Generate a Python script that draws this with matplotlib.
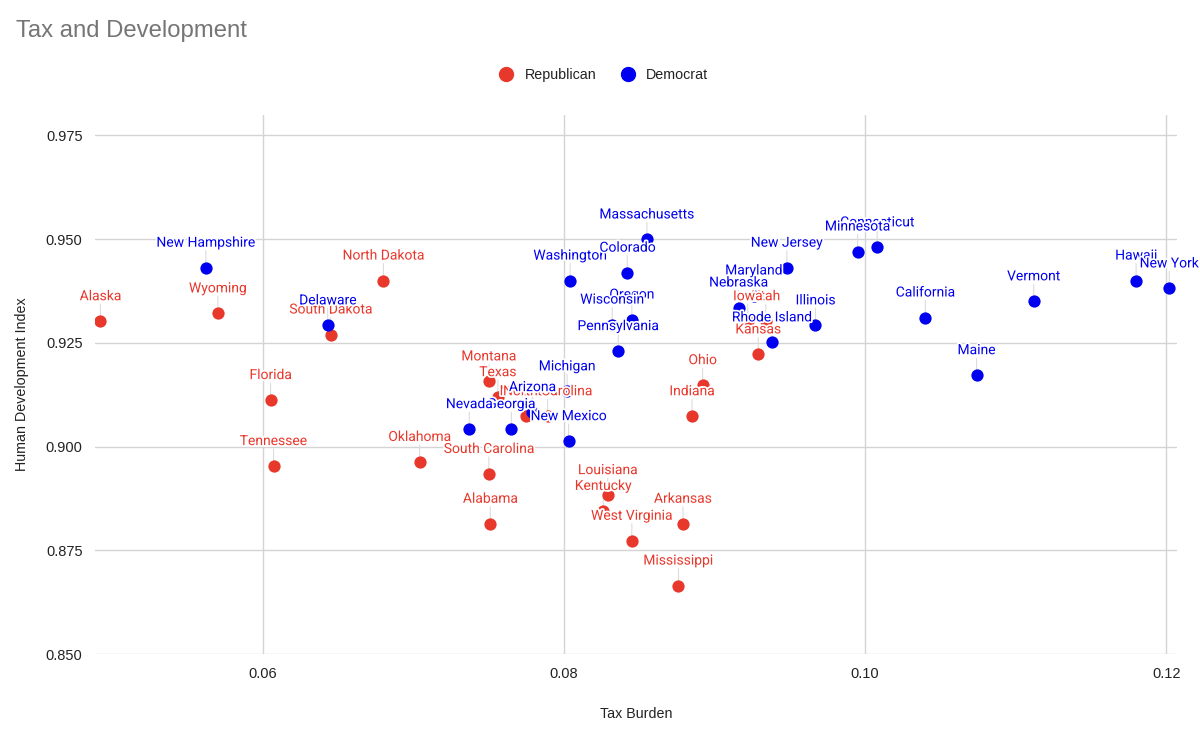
import matplotlib.pyplot as plt
import matplotlib.patheffects as pe
from matplotlib.lines import Line2D

# data (tax burden, HDI); list order = label drawing order
rep_states = ["Alaska", "Wyoming", "North Dakota", "South Dakota", "Florida", "Tennessee",
              "Oklahoma", "South Carolina", "Alabama", "Montana", "Texas", "Missouri",
              "North Carolina", "Ohio", "Indiana", "Utah", "Iowa", "Kansas", "Louisiana",
              "Kentucky", "West Virginia", "Arkansas", "Mississippi"]
rep_tax = [0.0492, 0.0570, 0.0680, 0.0645, 0.0605, 0.0607,
           0.0704, 0.0750, 0.0751, 0.0750, 0.0756, 0.0775,
           0.0789, 0.0892, 0.0885, 0.0934, 0.0922, 0.0929, 0.0829,
           0.0826, 0.0845, 0.0879, 0.0876]
rep_hdi = [0.9302, 0.9321, 0.9400, 0.9270, 0.9112, 0.8953,
           0.8963, 0.8934, 0.8814, 0.9157, 0.9119, 0.9073,
           0.9073, 0.9148, 0.9073, 0.9302, 0.9302, 0.9222, 0.8883,
           0.8845, 0.8773, 0.8814, 0.8665]

dem_states = ["New Hampshire", "Delaware", "Washington", "Massachusetts", "Colorado", "Oregon",
              "Wisconsin", "Pennsylvania", "Michigan", "Georgia", "Nevada", "Arizona",
              "New Mexico", "Maryland", "New Jersey", "Nebraska", "Rhode Island", "Illinois",
              "Connecticut", "Minnesota", "California", "Maine", "Vermont", "Hawaii", "New York"]
dem_tax = [0.0562, 0.0643, 0.0804, 0.0855, 0.0842, 0.0845,
           0.0832, 0.0836, 0.0802, 0.0765, 0.0737, 0.0779,
           0.0803, 0.0926, 0.0948, 0.0916, 0.0938, 0.0967,
           0.1008, 0.0995, 0.1040, 0.1074, 0.1112, 0.1180, 0.1202]
dem_hdi = [0.9431, 0.9292, 0.9400, 0.9499, 0.9419, 0.9306,
           0.9294, 0.9230, 0.9133, 0.9042, 0.9042, 0.9083,
           0.9013, 0.9364, 0.9431, 0.9335, 0.9251, 0.9292,
           0.9480, 0.9470, 0.9311, 0.9172, 0.9350, 0.9400, 0.9381]

x_ticks = [0.06, 0.08, 0.10, 0.12]
y_ticks = [0.850, 0.875, 0.900, 0.925, 0.950, 0.975]

RED = "#e8382c"
BLUE = "#0000f0"

fig = plt.figure(figsize=(12, 7.3), dpi=100)
ax = fig.add_axes([0.0792, 0.104, 0.9018, 0.7385])

ax.scatter(rep_tax, rep_hdi, s=78, color=RED, zorder=3, linewidths=0)
ax.scatter(dem_tax, dem_hdi, s=78, color=BLUE, zorder=3, linewidths=0)

halo = [pe.withStroke(linewidth=2.5, foreground="white")]
for names, xs, ys, col in [(rep_states, rep_tax, rep_hdi, RED),
                           (dem_states, dem_tax, dem_hdi, BLUE)]:
    for name, x, y in zip(names, xs, ys):
        # thin stem behind the dots
        ax.annotate("", (x, y), xytext=(0, 17), textcoords="offset pixels", zorder=2,
                    arrowprops=dict(arrowstyle="-", color="#dcdcdc", lw=0.8,
                                    shrinkA=0, shrinkB=0))
        t = ax.annotate(name, (x, y), xytext=(0, 25), textcoords="offset pixels",
                        ha="center", va="center", color=col, fontsize=10,
                        family="Roboto", zorder=4)
        t.set_path_effects(halo)

ax.set_xlim(0.04884, 0.12073)
ax.set_ylim(0.8500, 0.9799)
ax.set_xticks(x_ticks)
ax.set_xticklabels([f"{v:.2f}" for v in x_ticks])
ax.set_yticks(y_ticks)
ax.set_yticklabels([f"{v:.3f}" for v in y_ticks])
ax.grid(True, color="#d4d4d4", lw=1, zorder=0)
ax.set_axisbelow(True)
for s in ax.spines.values():
    s.set_visible(False)
ax.tick_params(length=0, labelsize=10.5, colors="#222222", pad=9)
for lab in ax.get_xticklabels() + ax.get_yticklabels():
    lab.set_family("Liberation Sans")

ax.set_xlabel("Tax Burden", fontsize=10.3, family="Liberation Sans", color="#222222", labelpad=19)
ax.set_ylabel("Human Development Index", fontsize=10.3, family="Liberation Sans",
              color="#222222", labelpad=12)

fig.text(0.0133, 0.958, "Tax and Development", fontsize=17.2, color="#757575",
         family="Liberation Sans", va="center")

handles = [Line2D([], [], marker="o", ls="", color=RED, markersize=10, label="Republican"),
           Line2D([], [], marker="o", ls="", color=BLUE, markersize=10, label="Democrat")]
fig.legend(handles=handles, loc="center", bbox_to_anchor=(0.5, 0.897), ncol=2, frameon=False,
           prop={"family": "Liberation Sans", "size": 10.3}, handletextpad=0.3,
           columnspacing=1.2, labelcolor="#222222")

fig.savefig("out.png", dpi=100)
